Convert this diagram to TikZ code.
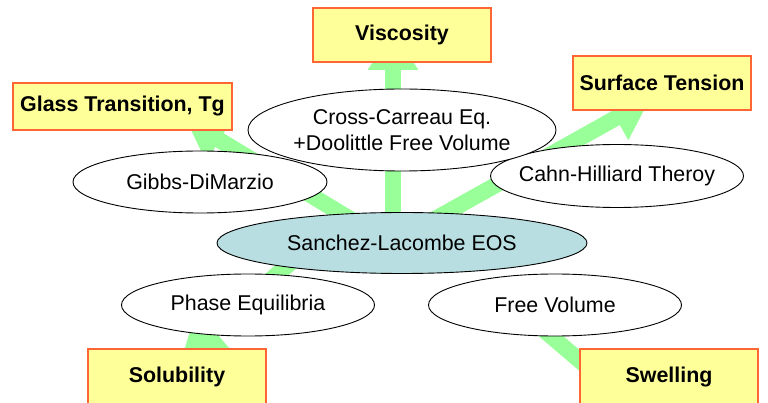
\documentclass[tikz,border=0pt]{standalone}
\usepackage{fontspec}
\setmainfont{Liberation Sans}
\usetikzlibrary{shapes.geometric,arrows.meta}
\definecolor{boxfill}{HTML}{FFFF99}
\definecolor{boxborder}{HTML}{FF6633}
\definecolor{flowgreen}{HTML}{99FF99}
\definecolor{eosfill}{HTML}{B8DEE1}
\begin{document}
\begin{tikzpicture}[x=1pt,y=-1pt,
  txt/.style={font=\fontsize{21.4}{26.5}\selectfont, align=center},
  box/.style={draw=boxborder, fill=boxfill, line width=1.2pt, minimum width=178pt,
    minimum height=54pt, inner sep=0pt, font=\fontsize{21.4}{26}\selectfont\bfseries},
  oval/.style={ellipse, draw=black, fill=white, line width=0.9pt, inner sep=0pt},
  flow/.style={draw=flowgreen, line width=16pt, -{Triangle[length=39pt,width=48pt]}}
]
\useasboundingbox (0,0) rectangle (768,403);

% arrow end points
\coordinate (oV) at (393,243);
\coordinate (oG) at (390,243);
\coordinate (oS) at (392,243);
\coordinate (oP) at (314,243);
\coordinate (oW) at (525,314);
\coordinate (tV) at (393,31);
\coordinate (tG) at (186,120);
\coordinate (tS) at (650,99);
\coordinate (tP) at (183,354);
\coordinate (tW) at (640,412);

\draw[flow] (oV) -- (tV);
\draw[flow] (oG) -- (tG);
\draw[flow] (oS) -- (tS);
\draw[flow] (oP) -- (tP);
\draw[flow] (oW) -- (tW);

% ellipses
\node[oval, minimum width=254pt, minimum height=62pt,
  label={[txt]center:Gibbs-DiMarzio}] (gibbs) at (200,182) {};
\node[oval, minimum width=253pt, minimum height=63pt,
  label={[txt]center:Cahn-Hilliard Theroy}] (cahn) at (617,176) {};
\node[oval, minimum width=308pt, minimum height=82pt,
  label={[txt]center:Cross-Carreau Eq.\\+Doolittle Free Volume}] (cross) at (402,130) {};
\node[oval, minimum width=253pt, minimum height=62pt,
  label={[txt]center:Phase Equilibria}] (phase) at (248,305) {};
\node[oval, minimum width=253pt, minimum height=62pt,
  label={[txt]center:Free Volume}] (free) at (555,305) {};
\node[oval, fill=eosfill, minimum width=370pt, minimum height=61pt,
  label={[txt]center:Sanchez-Lacombe EOS}] (eos) at (402,243) {};

% boxes
\node[box] (visc) at (402,35) {Viscosity};
\node[box, minimum width=219pt, minimum height=47pt] (glass) at (122.5,106.5) {Glass Transition, Tg};
\node[box] (surf) at (662,83) {Surface Tension};
\node[box, minimum height=56pt] (sol) at (177,377) {Solubility};
\node[box, minimum height=56pt] (swell) at (669,377) {Swelling};
\end{tikzpicture}
\end{document}
